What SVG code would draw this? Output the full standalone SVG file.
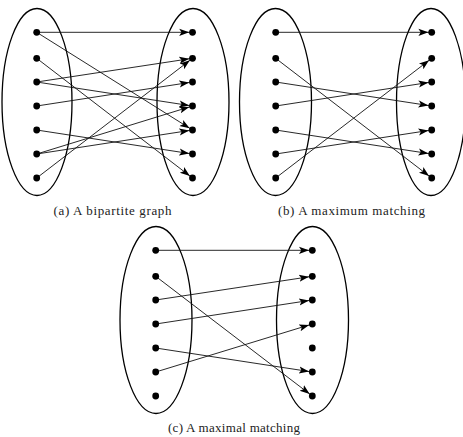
<svg xmlns="http://www.w3.org/2000/svg" width="463" height="437" viewBox="0 0 463 437">
<style>
.set{fill:none;stroke:#000;stroke-width:1.3}
.dot{fill:#000}
.e{stroke:#111;stroke-width:0.9;fill:none;marker-end:url(#ah)}
.cap{font-family:"Liberation Serif","DejaVu Serif",serif;font-size:13px;fill:#222;text-anchor:middle}
</style>
<defs>
<marker id="ah" markerUnits="userSpaceOnUse" markerWidth="15" markerHeight="10" refX="13.3" refY="5" orient="auto">
<path d="M0,1.4 L10,5 L0,8.6 L2.3,5 z" fill="#000"/>
</marker>
</defs>
<rect width="463" height="437" fill="#fff"/>

<!-- sets -->
<g id="a-left-set"><ellipse class="set" cx="37" cy="102" rx="35" ry="93.5"/></g>
<g id="a-right-set"><ellipse class="set" cx="193" cy="102" rx="36" ry="93.5"/></g>
<g id="b-left-set"><ellipse class="set" cx="275.5" cy="102" rx="36" ry="93.5"/></g>
<g id="b-right-set"><ellipse class="set" cx="431" cy="102" rx="34.5" ry="93.5"/></g>
<g id="c-left-set"><ellipse class="set" cx="156" cy="320" rx="36" ry="93.5"/></g>
<g id="c-right-set"><ellipse class="set" cx="312.5" cy="320" rx="36" ry="93.5"/></g>

<!-- connectors -->
<g id="connectors">
<!-- (a) -->
<line class="e" x1="36.7" y1="32.3" x2="192.5" y2="32.3"/>
<line class="e" x1="36.7" y1="32.3" x2="192.5" y2="130"/>
<line class="e" x1="36.7" y1="58.3" x2="192.5" y2="178"/>
<line class="e" x1="36.7" y1="82" x2="192.5" y2="58.3"/>
<line class="e" x1="36.7" y1="82" x2="192.5" y2="106"/>
<line class="e" x1="36.7" y1="106" x2="192.5" y2="82"/>
<line class="e" x1="36.7" y1="130" x2="192.5" y2="154"/>
<line class="e" x1="36.7" y1="154" x2="192.5" y2="106"/>
<line class="e" x1="36.7" y1="154" x2="192.5" y2="130"/>
<line class="e" x1="36.7" y1="178" x2="192.5" y2="58.3"/>
<!-- (b) -->
<line class="e" x1="275.7" y1="32.3" x2="431.7" y2="32.3"/>
<line class="e" x1="275.7" y1="58.3" x2="431.7" y2="178"/>
<line class="e" x1="275.7" y1="82" x2="431.7" y2="106"/>
<line class="e" x1="275.7" y1="106" x2="431.7" y2="82"/>
<line class="e" x1="275.7" y1="130" x2="431.7" y2="154"/>
<line class="e" x1="275.7" y1="154" x2="431.7" y2="130"/>
<line class="e" x1="275.7" y1="178" x2="431.7" y2="58.3"/>
<!-- (c) -->
<line class="e" x1="155.7" y1="250.3" x2="312.3" y2="250.3"/>
<line class="e" x1="155.7" y1="276.3" x2="312.3" y2="396"/>
<line class="e" x1="155.7" y1="300" x2="312.3" y2="276.3"/>
<line class="e" x1="155.7" y1="324" x2="312.3" y2="300"/>
<line class="e" x1="155.7" y1="348" x2="312.3" y2="372"/>
<line class="e" x1="155.7" y1="372" x2="312.3" y2="324"/>
</g>

<!-- (a) vertices -->
<g id="a-L1"><circle class="dot" cx="36.7" cy="32.3" r="3.4"/></g>
<g id="a-L2"><circle class="dot" cx="36.7" cy="58.3" r="3.4"/></g>
<g id="a-L3"><circle class="dot" cx="36.7" cy="82" r="3.4"/></g>
<g id="a-L4"><circle class="dot" cx="36.7" cy="106" r="3.4"/></g>
<g id="a-L5"><circle class="dot" cx="36.7" cy="130" r="3.4"/></g>
<g id="a-L6"><circle class="dot" cx="36.7" cy="154" r="3.4"/></g>
<g id="a-L7"><circle class="dot" cx="36.7" cy="178" r="3.4"/></g>
<g id="a-R1"><circle class="dot" cx="192.5" cy="32.3" r="3.4"/></g>
<g id="a-R2"><circle class="dot" cx="192.5" cy="58.3" r="3.4"/></g>
<g id="a-R3"><circle class="dot" cx="192.5" cy="82" r="3.4"/></g>
<g id="a-R4"><circle class="dot" cx="192.5" cy="106" r="3.4"/></g>
<g id="a-R5"><circle class="dot" cx="192.5" cy="130" r="3.4"/></g>
<g id="a-R6"><circle class="dot" cx="192.5" cy="154" r="3.4"/></g>
<g id="a-R7"><circle class="dot" cx="192.5" cy="178" r="3.4"/></g>

<!-- (b) vertices -->
<g id="b-L1"><circle class="dot" cx="275.7" cy="32.3" r="3.4"/></g>
<g id="b-L2"><circle class="dot" cx="275.7" cy="58.3" r="3.4"/></g>
<g id="b-L3"><circle class="dot" cx="275.7" cy="82" r="3.4"/></g>
<g id="b-L4"><circle class="dot" cx="275.7" cy="106" r="3.4"/></g>
<g id="b-L5"><circle class="dot" cx="275.7" cy="130" r="3.4"/></g>
<g id="b-L6"><circle class="dot" cx="275.7" cy="154" r="3.4"/></g>
<g id="b-L7"><circle class="dot" cx="275.7" cy="178" r="3.4"/></g>
<g id="b-R1"><circle class="dot" cx="431.7" cy="32.3" r="3.4"/></g>
<g id="b-R2"><circle class="dot" cx="431.7" cy="58.3" r="3.4"/></g>
<g id="b-R3"><circle class="dot" cx="431.7" cy="82" r="3.4"/></g>
<g id="b-R4"><circle class="dot" cx="431.7" cy="106" r="3.4"/></g>
<g id="b-R5"><circle class="dot" cx="431.7" cy="130" r="3.4"/></g>
<g id="b-R6"><circle class="dot" cx="431.7" cy="154" r="3.4"/></g>
<g id="b-R7"><circle class="dot" cx="431.7" cy="178" r="3.4"/></g>

<!-- (c) vertices -->
<g id="c-L1"><circle class="dot" cx="155.7" cy="250.3" r="3.4"/></g>
<g id="c-L2"><circle class="dot" cx="155.7" cy="276.3" r="3.4"/></g>
<g id="c-L3"><circle class="dot" cx="155.7" cy="300" r="3.4"/></g>
<g id="c-L4"><circle class="dot" cx="155.7" cy="324" r="3.4"/></g>
<g id="c-L5"><circle class="dot" cx="155.7" cy="348" r="3.4"/></g>
<g id="c-L6"><circle class="dot" cx="155.7" cy="372" r="3.4"/></g>
<g id="c-L7"><circle class="dot" cx="155.7" cy="396" r="3.4"/></g>
<g id="c-R1"><circle class="dot" cx="312.3" cy="250.3" r="3.4"/></g>
<g id="c-R2"><circle class="dot" cx="312.3" cy="276.3" r="3.4"/></g>
<g id="c-R3"><circle class="dot" cx="312.3" cy="300" r="3.4"/></g>
<g id="c-R4"><circle class="dot" cx="312.3" cy="324" r="3.4"/></g>
<g id="c-R5"><circle class="dot" cx="312.3" cy="348" r="3.4"/></g>
<g id="c-R6"><circle class="dot" cx="312.3" cy="372" r="3.4"/></g>
<g id="c-R7"><circle class="dot" cx="312.3" cy="396" r="3.4"/></g>

<!-- captions -->
<g id="captions">
<text class="cap" x="112.5" y="214.5" textLength="118" lengthAdjust="spacing">(a) A bipartite graph</text>
<text class="cap" x="351.5" y="214.5" textLength="147" lengthAdjust="spacing">(b) A maximum matching</text>
<text class="cap" x="234" y="431.5" textLength="132" lengthAdjust="spacing">(c) A maximal matching</text>
</g>
</svg>
